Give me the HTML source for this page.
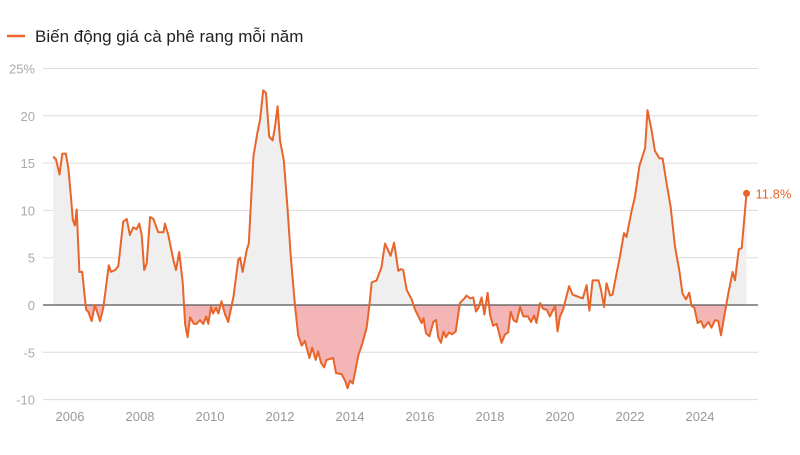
<!DOCTYPE html>
<html><head><meta charset="utf-8"><style>
body{margin:0;background:#fff;width:800px;height:450px;overflow:hidden;font-family:"Liberation Sans",sans-serif}
</style></head><body>
<svg id="chart" width="800" height="450" xmlns="http://www.w3.org/2000/svg">
<g>
<line x1="7" y1="36" x2="25" y2="36" stroke="#e8652a" stroke-width="2.5"/>
<text x="35" y="42" font-size="17" fill="#222">Biến động giá cà phê rang mỗi năm</text>
</g>
<g id="grid"></g>
<g id="areas"></g>
<g id="zero"></g>
<g id="series"></g>
<g id="xaxis"></g>
</svg>
<script>
const yTicks=[25,20,15,10,5,0,-5,-10];
const yTickLabels=["25%","20","15","10","5","0","-5","-10"];
const xTicks=[2006,2008,2010,2012,2014,2016,2018,2020,2022,2024];
const dates=[2005.52,2005.6,2005.7,2005.78,2005.88,2005.95,2006.03,2006.08,2006.14,2006.19,2006.27,2006.35,2006.46,2006.52,2006.62,2006.71,2006.86,2006.95,2007.11,2007.17,2007.29,2007.38,2007.52,2007.62,2007.71,2007.81,2007.9,2007.98,2008.05,2008.12,2008.19,2008.29,2008.38,2008.52,2008.67,2008.71,2008.81,2008.95,2009.03,2009.12,2009.22,2009.29,2009.36,2009.43,2009.54,2009.62,2009.71,2009.81,2009.89,2009.95,2010.03,2010.09,2010.17,2010.24,2010.33,2010.43,2010.52,2010.67,2010.81,2010.86,2010.93,2011.05,2011.11,2011.24,2011.35,2011.43,2011.52,2011.6,2011.69,2011.79,2011.86,2011.93,2012.0,2012.11,2012.21,2012.31,2012.43,2012.52,2012.62,2012.71,2012.84,2012.92,2013.02,2013.09,2013.17,2013.26,2013.33,2013.52,2013.6,2013.76,2013.86,2013.93,2014.0,2014.08,2014.24,2014.36,2014.48,2014.55,2014.62,2014.76,2014.9,2015.0,2015.16,2015.26,2015.38,2015.45,2015.52,2015.62,2015.76,2015.86,2016.05,2016.1,2016.17,2016.27,2016.38,2016.46,2016.52,2016.6,2016.67,2016.74,2016.83,2016.92,2017.02,2017.14,2017.27,2017.33,2017.43,2017.52,2017.6,2017.67,2017.76,2017.84,2017.93,2018.0,2018.09,2018.19,2018.33,2018.43,2018.52,2018.59,2018.67,2018.76,2018.86,2018.95,2019.08,2019.17,2019.26,2019.33,2019.43,2019.52,2019.62,2019.71,2019.86,2019.93,2020.0,2020.09,2020.26,2020.36,2020.57,2020.65,2020.76,2020.84,2020.93,2021.1,2021.17,2021.26,2021.33,2021.43,2021.5,2021.62,2021.71,2021.83,2021.9,2022.05,2022.14,2022.27,2022.43,2022.5,2022.62,2022.71,2022.84,2022.93,2023.05,2023.16,2023.29,2023.41,2023.5,2023.6,2023.69,2023.76,2023.84,2023.93,2024.03,2024.11,2024.24,2024.33,2024.43,2024.52,2024.6,2024.71,2024.81,2024.93,2025.0,2025.11,2025.19,2025.33];
const values=[15.7,15.4,13.8,16.0,16.0,14.5,11.4,9.0,8.4,10.1,3.5,3.5,-0.5,-0.7,-1.7,0.0,-1.7,-0.3,4.2,3.5,3.7,4.1,8.8,9.1,7.4,8.2,8.0,8.6,7.4,3.7,4.4,9.3,9.1,7.7,7.7,8.6,7.4,4.8,3.7,5.6,2.4,-2.0,-3.4,-1.3,-2.0,-2.0,-1.6,-2.0,-1.2,-2.0,-0.2,-0.9,-0.3,-0.9,0.4,-1.0,-1.8,0.9,4.8,5.0,3.5,5.8,6.5,15.7,18.1,19.6,22.7,22.4,17.8,17.4,18.9,21.0,17.4,15.3,10.4,5.1,-0.2,-3.2,-4.3,-3.8,-5.6,-4.5,-5.8,-4.9,-6.1,-6.6,-5.8,-5.6,-7.2,-7.3,-8.0,-8.8,-8.0,-8.3,-5.3,-4.0,-2.3,-0.2,2.4,2.6,4.0,6.5,5.2,6.6,3.6,3.8,3.7,1.6,0.6,-0.5,-1.9,-1.4,-3.0,-3.3,-1.8,-1.6,-3.4,-4.0,-2.8,-3.4,-2.9,-3.1,-2.8,0.2,0.7,1.0,0.7,0.8,-0.7,-0.3,0.8,-1.0,1.3,-1.0,-2.2,-2.0,-4.0,-3.1,-2.9,-0.7,-1.6,-1.8,-0.2,-1.2,-1.2,-1.8,-1.1,-1.9,0.2,-0.4,-0.5,-1.2,-0.1,-2.8,-1.2,-0.5,2.0,1.1,0.8,0.7,2.1,-0.6,2.6,2.6,1.6,-0.2,2.3,1.0,1.1,3.4,5.1,7.6,7.2,10.0,11.4,14.7,16.6,20.6,18.4,16.3,15.5,15.5,12.8,10.4,6.1,3.6,1.2,0.6,1.3,-0.1,-0.3,-1.9,-1.7,-2.4,-1.8,-2.4,-1.6,-1.7,-3.2,-0.8,1.2,3.5,2.6,5.9,6.0,11.8];

const NS="http://www.w3.org/2000/svg";
const X=yr=>70+(yr-2006)*35;
const Y=v=>305-v*9.46;
function mk(tag,attrs,parent){const e=document.createElementNS(NS,tag);for(const k in attrs)e.setAttribute(k,attrs[k]);parent.appendChild(e);return e;}
const grid=document.getElementById('grid');
yTicks.forEach((t,i)=>{
  if(t!==0){const l=mk('line',{x1:43,x2:758,y1:Y(t),y2:Y(t),stroke:'#dcdcdc','stroke-width':1},grid);
  
  }
  const tx=mk('text',{x:35,y:Y(t)+5,'text-anchor':'end','font-size':13,fill:'#aaa'},grid);
  tx.textContent=yTickLabels[i];
  
  
});
const xa=document.getElementById('xaxis');
xTicks.forEach(t=>{
  const tx=mk('text',{x:X(t),y:421,'text-anchor':'middle','font-size':13,fill:'#999'},xa);
  tx.textContent=t;
  
  
});
const pts=dates.map((d,i)=>[X(d),Y(values[i])]);
const lineD='M'+pts.map(p=>p[0].toFixed(1)+','+p[1].toFixed(1)).join('L');
const areaD=lineD+'L'+pts[pts.length-1][0].toFixed(1)+','+Y(0)+'L'+pts[0][0].toFixed(1)+','+Y(0)+'Z';
const svg=document.getElementById('chart');
const defs=mk('defs',{},svg);
const c1=mk('clipPath',{id:'above'},defs);mk('rect',{x:0,y:0,width:800,height:Y(0)},c1);
const c2=mk('clipPath',{id:'below'},defs);mk('rect',{x:0,y:Y(0),width:800,height:450},c2);
const ar=document.getElementById('areas');
const a1=mk('path',{d:areaD,fill:'#efefef','clip-path':'url(#above)'},ar);


const a2=mk('path',{d:areaD,fill:'#f4b5b7','clip-path':'url(#below)'},ar);


const z=mk('line',{x1:43,x2:758,y1:Y(0),y2:Y(0),stroke:'#555','stroke-width':1.2},document.getElementById('zero'));


const s=document.getElementById('series');
const ln=mk('path',{d:lineD,fill:'none',stroke:'#e8652a','stroke-width':2,'stroke-linejoin':'round'},s);


const last=pts[pts.length-1];
const dot=mk('circle',{cx:last[0],cy:last[1],r:3.5,fill:'#e8652a'},s);


const lbl=mk('text',{x:last[0]+9,y:last[1]+5,'font-size':13,fill:'#e8652a'},s);
lbl.textContent=values[values.length-1].toFixed(1)+'%';


</script>
</body></html>
